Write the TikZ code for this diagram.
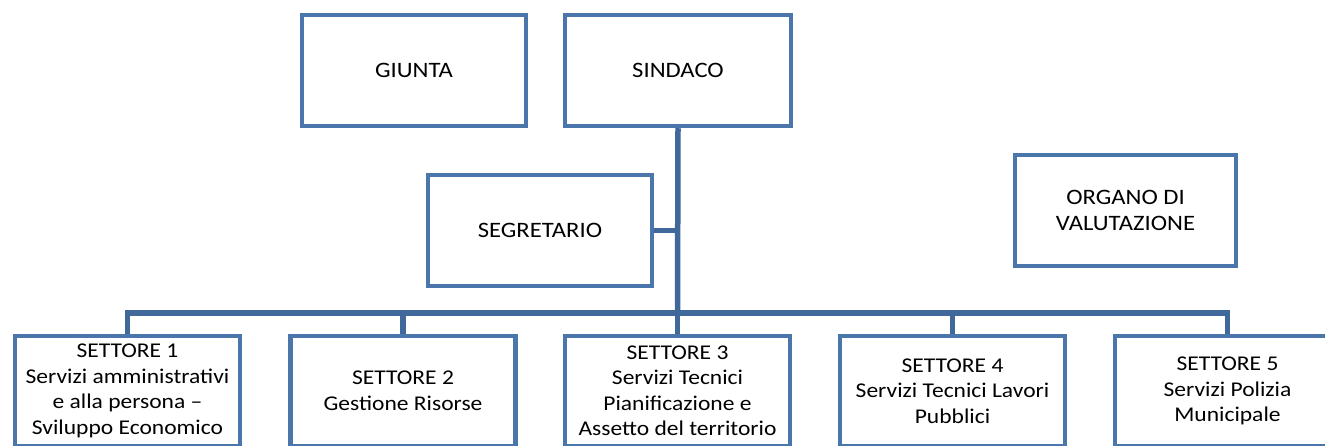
\documentclass[tikz,border=0pt]{standalone}
\usepackage{fontspec}
\setmainfont{Carlito}[FakeStretch=1.12]
\definecolor{boxblue}{RGB}{74,118,172}
\definecolor{lineblue}{RGB}{64,104,154}
\begin{document}
\begin{tikzpicture}[x=1pt,y=-1pt,
  topbox/.style={draw=boxblue,line width=4.5pt,fill=white,minimum width=224pt,minimum height=111pt,align=center,inner sep=0pt,font=\fontsize{22}{26}\selectfont},
  setbox/.style={draw=boxblue,line width=4.5pt,fill=white,minimum width=225pt,minimum height=110pt,align=center,inner sep=0pt,font=\fontsize{21}{25.5}\selectfont},
  conn/.style={draw=lineblue,line width=5.5pt}]
\useasboundingbox (0,0) rectangle (1325,446);
\clip (0,0) rectangle (1325,446);
\fill[white] (0,0) rectangle (1325,446);
\coordinate (bus) at (677.5,313);
\node[topbox] (giunta) at (414,70.5) {GIUNTA};
\node[topbox,minimum width=226pt] (sind) at (678,70.5) {SINDACO};
\node[topbox] (seg) at (540,230.5) {SEGRETARIO};
\node[topbox,minimum width=221pt] (org) at (1125.5,210.5) {ORGANO DI\\VALUTAZIONE};
\node[setbox] (s1) at (127.5,391) {SETTORE 1\\Servizi amministrativi\\e alla persona --\\Sviluppo Economico};
\node[setbox] (s2) at (403,391) {SETTORE 2\\Gestione Risorse};
\node[setbox] (s3) at (677.5,391) {SETTORE 3\\Servizi Tecnici\\Pianificazione e\\Assetto del territorio};
\node[setbox] (s4) at (952.5,391) {SETTORE 4\\Servizi Tecnici Lavori\\Pubblici};
\node[setbox] (s5) at (1227.5,391) {SETTORE 5\\Servizi Polizia\\Municipale};
\draw[conn] (sind.south) -- (bus);
\draw[conn] (seg.east) -- (seg.east -| bus);
\draw[conn] (s1.north) -- (s1.north |- bus) -- (s5.north |- bus) -- (s5.north);
\draw[conn] (s2.north) -- (s2.north |- bus);
\draw[conn] (s3.north) -- (bus);
\draw[conn] (s4.north) -- (s4.north |- bus);
\end{tikzpicture}
\end{document}
